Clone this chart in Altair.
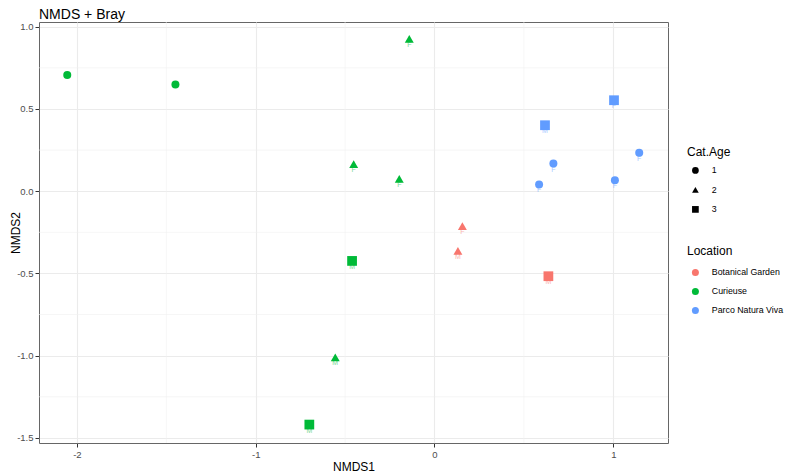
import altair as alt
import pandas as pd

FONT = "Liberation Sans"

# Data
nmds1 = [0.156, 0.131, 0.637, -2.054, -1.449, -0.141, -0.452, -0.197, -0.461,
         -0.555, -0.700, 1.004, 0.618, 0.665, 0.585, 1.009, 1.145]
nmds2 = [-0.213, -0.363, -0.517, 0.706, 0.649, 0.926, 0.165, 0.075, -0.424,
         -1.010, -1.419, 0.553, 0.401, 0.168, 0.041, 0.067, 0.233]
location = ["Botanical Garden", "Botanical Garden", "Botanical Garden",
            "Curieuse", "Curieuse", "Curieuse", "Curieuse", "Curieuse",
            "Curieuse", "Curieuse", "Curieuse",
            "Parco Natura Viva", "Parco Natura Viva", "Parco Natura Viva",
            "Parco Natura Viva", "Parco Natura Viva", "Parco Natura Viva"]
cat_age = ["2", "2", "3", "1", "1", "2", "2", "2", "3", "2", "3",
           "3", "3", "1", "1", "1", "1"]
sex = ["F", "M", "M", "", "", "F", "F", "F", "M", "M", "M",
       "F", "M", "F", "F", "F", "F"]

loc_levels = ["Botanical Garden", "Curieuse", "Parco Natura Viva"]
loc_colors = ["#F8766D", "#00BA38", "#619CFF"]
age_levels = ["1", "2", "3"]
age_shapes = ["circle", "triangle-up", "square"]
age_sizes = [64, 95, 64]

x_major = [-2, -1, 0, 1]
x_minor = [-1.5, -0.5, 0.5]
y_major = [-1.5, -1.0, -0.5, 0.0, 0.5, 1.0]
y_minor = [-1.25, -0.75, -0.25, 0.25, 0.75]

df = pd.DataFrame({"NMDS1": nmds1, "NMDS2": nmds2, "Location": location,
                   "CatAge": cat_age, "Sex": sex})
xminor_df = pd.DataFrame({"v": x_minor})
yminor_df = pd.DataFrame({"v": y_minor})

xscale = alt.Scale(domain=[-2.212, 1.306], nice=False, zero=False)
yscale = alt.Scale(domain=[-1.531, 1.0286], nice=False, zero=False)
color_scale = alt.Scale(domain=loc_levels, range=loc_colors)
shape_scale = alt.Scale(domain=age_levels, range=age_shapes)
# separate domain keys so the (hidden) size guide never merges with the shape legend
size_scale = alt.Scale(domain=["sz" + a for a in age_levels], range=age_sizes)

minus_fix = "replace(datum.label, '\u2212', '-')"

x_axis = alt.Axis(values=x_major, title="NMDS1", format="d", titlePadding=3,
                  labelExpr=minus_fix)
y_axis = alt.Axis(values=y_major, title="NMDS2", format=".1f",
                  titleX=-17, labelExpr=minus_fix)

xminor = alt.Chart(xminor_df).mark_rule(color="#F0F0F0", strokeWidth=0.6).encode(
    x=alt.X("v:Q", scale=xscale))
yminor = alt.Chart(yminor_df).mark_rule(color="#F0F0F0", strokeWidth=0.6).encode(
    y=alt.Y("v:Q", scale=yscale))

base = alt.Chart(df)

points = base.transform_calculate(sz="'sz' + datum.CatAge").mark_point(
    filled=True, opacity=1).encode(
    x=alt.X("NMDS1:Q", scale=xscale, axis=x_axis),
    y=alt.Y("NMDS2:Q", scale=yscale, axis=y_axis),
    color=alt.Color("Location:N", scale=color_scale,
                    legend=alt.Legend(title="Location", orient="none",
                                      legendX=648, legendY=224,
                                      symbolType="circle", symbolSize=49,
                                      symbolOffset=4, labelOffset=12,
                                      rowPadding=9, titlePadding=10,
                                      symbolStrokeWidth=0)),
    shape=alt.Shape("CatAge:N", scale=shape_scale,
                    legend=alt.Legend(title="Cat.Age", orient="none",
                                      legendX=648, legendY=125,
                                      symbolSize=45, symbolFillColor="black",
                                      symbolStrokeColor="black",
                                      symbolStrokeWidth=0,
                                      symbolOffset=4, labelOffset=12,
                                      rowPadding=9.5, titlePadding=7)),
    size=alt.Size("sz:N", scale=size_scale, legend=None),
)

labels = base.mark_text(fontSize=7, dy=6, baseline="middle", align="center",
                        font=FONT, opacity=0.55).encode(
    x=alt.X("NMDS1:Q", scale=xscale),
    y=alt.Y("NMDS2:Q", scale=yscale),
    text="Sex:N",
    color=alt.Color("Location:N", scale=color_scale),
)

chart = alt.layer(xminor, yminor, points, labels).properties(
    width=629, height=421,
    padding={"left": 31, "top": 14, "right": 117, "bottom": 29},
    autosize="none",
    title=alt.TitleParams("NMDS + Bray", anchor="start", frame="group",
                          fontSize=14, font=FONT, fontWeight="normal",
                          color="black", offset=0),
).configure_view(stroke="#666666", strokeWidth=1).configure_axis(
    domain=False, tickColor="#333333", tickSize=4, tickWidth=1,
    labelFont=FONT, labelFontSize=9.5, labelColor="#4D4D4D",
    labelPadding=2, titleFont=FONT, titleFontSize=12,
    titleFontWeight="normal", titleColor="black",
    grid=True, gridColor="#EBEBEB", gridWidth=1.1,
).configure_legend(
    titleFont=FONT, titleFontSize=12, titleFontWeight="normal",
    titleColor="black", labelFont=FONT, labelFontSize=8.8, labelColor="black",
    padding=0,
)

chart.save("out.html", embed_options={"renderer": "svg", "actions": False})
